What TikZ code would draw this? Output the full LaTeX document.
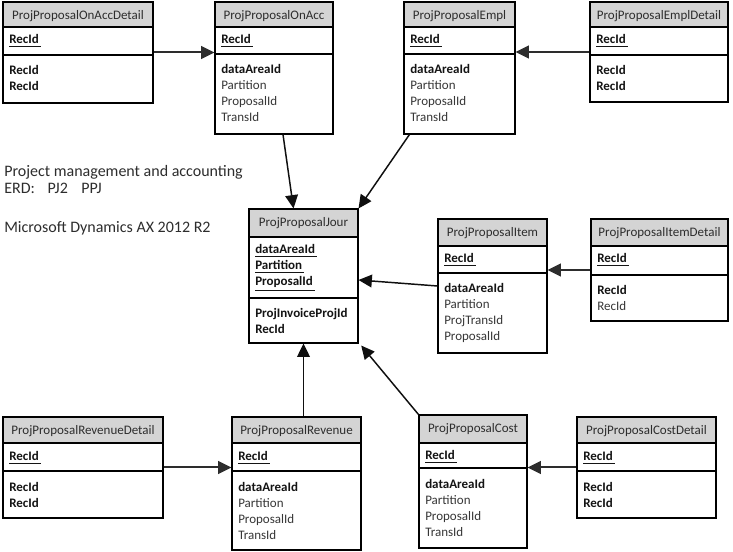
\documentclass[tikz,border=0pt]{standalone}
\usepackage{fontspec}
\setmainfont{Carlito}
\usetikzlibrary{arrows.meta,fit}
\definecolor{hdrgray}{RGB}{212,212,212}
\definecolor{txtgray}{RGB}{55,55,55}
\definecolor{ttlgray}{RGB}{45,45,45}
\definecolor{boldtxt}{RGB}{20,20,20}
\definecolor{arrcol}{RGB}{15,15,15}
\tikzset{
  tline/.style={line width=0.8pt, black},
  tbox/.style={draw, line width=0.8pt, inner sep=0pt, rectangle},
  ttl/.style={inner sep=0pt, anchor=base, text=ttlgray, font=\fontsize{9.75}{11}\selectfont},
  fk/.style={inner sep=0pt, anchor=base west, text=boldtxt, font=\fontsize{9.75}{11}\selectfont\bfseries},
  fb/.style={inner sep=0pt, anchor=base west, text=boldtxt, font=\fontsize{9.75}{11}\selectfont\bfseries},
  fr/.style={inner sep=0pt, anchor=base west, text=txtgray, font=\fontsize{9.75}{11}\selectfont},
  note/.style={inner sep=0pt, anchor=base west, text=ttlgray, font=\fontsize{12}{14}\selectfont},
  arr/.style={line width=1.1pt, arrcol, -{Triangle[length=10pt,width=9.5pt]}},
  harr/.style={line width=1.5pt, ttlgray, -{Triangle[length=10pt,width=9.5pt]}},
}
% name x1 y1 x2 y2 headerbottom divider title
\newcommand\erdbox[8]{%
  \fill[hdrgray] (#2,#3) rectangle (#4,#6);
  \draw[tline] (#2,#6) -- (#4,#6);
  \draw[tline] (#2,#7) -- (#4,#7);
  \node[tbox, fit={(#2,#3) (#4,#5)}] (#1) {};
  \node[ttl] (#1-title) at ({(#2+#4)/2},{#3+18}) {#8};
}
\newcommand\ukey[1]{\underline{#1\hspace{1.5pt}}}
\begin{document}
\begin{tikzpicture}[x=0.75pt,y=-0.75pt]
\useasboundingbox[fill=white] (0,0) rectangle (733,552);

% ---- tables ----
\erdbox{onaccd}{3}{2}{153}{103}{27}{55}{ProjProposalOnAccDetail}
\node[fk] (onaccd-k1) at (9,44) {\ukey{RecId}};
\node[fb] (onaccd-b1) at (9,75) {RecId};
\node[fb] (onaccd-b2) at (9,91) {RecId};

\erdbox{onacc}{215}{2}{333}{134}{27}{54}{ProjProposalOnAcc}
\node[fk] (onacc-k1) at (221,44) {\ukey{RecId}};
\node[fb] (onacc-b1) at (221,74) {dataAreaId};
\node[fr] (onacc-b2) at (221,90) {Partition};
\node[fr] (onacc-b3) at (221,106) {ProposalId};
\node[fr] (onacc-b4) at (221,122) {TransId};

\erdbox{empl}{404}{2}{515}{134}{27}{54}{ProjProposalEmpl}
\node[fk] (empl-k1) at (410,44) {\ukey{RecId}};
\node[fb] (empl-b1) at (410,74) {dataAreaId};
\node[fr] (empl-b2) at (410,90) {Partition};
\node[fr] (empl-b3) at (410,106) {ProposalId};
\node[fr] (empl-b4) at (410,122) {TransId};

\erdbox{empld}{590}{2}{728}{102}{27}{55}{ProjProposalEmplDetail}
\node[fk] (empld-k1) at (596,44) {\ukey{RecId}};
\node[fb] (empld-b1) at (596,75) {RecId};
\node[fb] (empld-b2) at (596,91) {RecId};

\erdbox{jour}{249}{209}{358}{343}{237}{298}{ProjProposalJour}
\node[fk] (jour-k1) at (255,254) {\ukey{dataAreaId}};
\node[fk] (jour-k2) at (255,270) {\ukey{Partition}};
\node[fk] (jour-k3) at (255,286) {\ukey{ProposalId}};
\node[fb] (jour-b1) at (255,318) {ProjInvoiceProjId};
\node[fb] (jour-b2) at (255,334) {RecId};

\erdbox{item}{438}{219}{547}{353}{246}{273}{ProjProposalItem}
\node[fk] (item-k1) at (444,263) {\ukey{RecId}};
\node[fb] (item-b1) at (444,293) {dataAreaId};
\node[fr] (item-b2) at (444,309) {Partition};
\node[fr] (item-b3) at (444,325) {ProjTransId};
\node[fr] (item-b4) at (444,341) {ProposalId};

\erdbox{itemd}{591}{219}{728}{321}{246}{275}{ProjProposalItemDetail}
\node[fk] (itemd-k1) at (597,263) {\ukey{RecId}};
\node[fb] (itemd-b1) at (597,295) {RecId};
\node[fr] (itemd-b2) at (597,311) {RecId};

\erdbox{revd}{3}{417}{163}{518}{443}{471}{ProjProposalRevenueDetail}
\node[fk] (revd-k1) at (9,461) {\ukey{RecId}};
\node[fb] (revd-b1) at (9,492) {RecId};
\node[fb] (revd-b2) at (9,508) {RecId};

\erdbox{rev}{232}{417}{361}{550}{443}{471}{ProjProposalRevenue}
\node[fk] (rev-k1) at (238,461) {\ukey{RecId}};
\node[fb] (rev-b1) at (238,492) {dataAreaId};
\node[fr] (rev-b2) at (238,508) {Partition};
\node[fr] (rev-b3) at (238,524) {ProposalId};
\node[fr] (rev-b4) at (238,540) {TransId};

\erdbox{cost}{419}{415}{527}{548}{443}{468}{ProjProposalCost}
\node[fk] (cost-k1) at (425,460) {\ukey{RecId}};
\node[fb] (cost-b1) at (425,489) {dataAreaId};
\node[fr] (cost-b2) at (425,505) {Partition};
\node[fr] (cost-b3) at (425,521) {ProposalId};
\node[fr] (cost-b4) at (425,537) {TransId};

\erdbox{costd}{577}{417}{716}{518}{443}{471}{ProjProposalCostDetail}
\node[fk] (costd-k1) at (583,461) {\ukey{RecId}};
\node[fb] (costd-b1) at (583,492) {RecId};
\node[fb] (costd-b2) at (583,508) {RecId};

% ---- notes ----
\node[note] (n1) at (4,177) {Project management and accounting};
\node[note] (n2) at (4,194) {ERD:\hspace{9.5pt}PJ2\hspace{10pt}PPJ};
\node[note] (n3) at (4,233) {Microsoft Dynamics AX 2012 R2};

% ---- connectors ----
\draw[harr] (onaccd.east) -- (onaccd.east -| onacc.west);
\draw[harr] (empld.west) -- (empld.west -| empl.east);
\draw[harr] (itemd.west) -- (itemd.west -| item.east);
\draw[harr] (revd.east) -- (revd.east -| rev.west);
\draw[harr] (costd.west) -- (costd.west -| cost.east);

\draw[arr] ([xshift=6.75pt]onacc.south) -- ([xshift=-7.5pt]jour.north);
\draw[arr] ([xshift=4.5pt]empl.south west) -- (jour.north east);
\draw[arr] (item.west) -- ([yshift=-3pt]jour.east);
\draw[arr] (jour.south |- rev.north) -- (jour.south);
\draw[arr] (cost.north west) -- ([xshift=2pt,yshift=-1.5pt]jour.south east);
\end{tikzpicture}
\end{document}
